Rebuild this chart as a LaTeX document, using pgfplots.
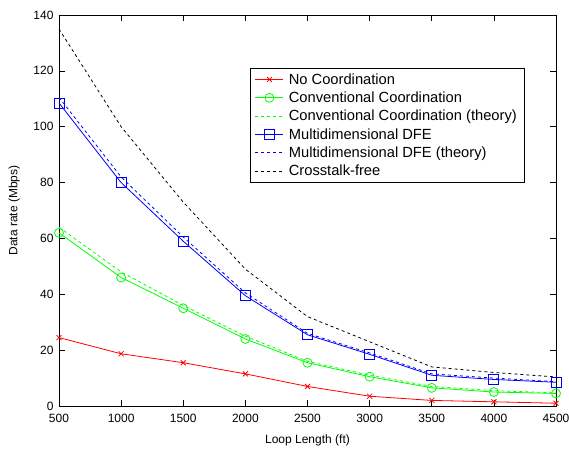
\documentclass[border=0pt]{standalone}
\usepackage{pgfplots}
\pgfplotsset{compat=1.18}
\usepackage{fontspec}
\setmainfont{Liberation Sans}
\begin{document}
\begin{tikzpicture}
  \begin{axis}[
      scale only axis,
      width=497pt, height=391pt,
      xmin=500, xmax=4500,
      ymin=0, ymax=140,
      xtick={500,1000,...,4500},
      ytick={0,20,...,140},
      tick align=inside,
      major tick length=6pt,
      xticklabel style={/pgf/number format/1000 sep={}, yshift=-5pt},
      yticklabel style={xshift=-2pt},
      /pgf/number format/assume math mode=true,
      tick label style={font=\fontsize{12}{14}\selectfont},
      xlabel={Loop Length (ft)},
      ylabel={Data rate (Mbps)},
      every axis x label/.style={at={(axis description cs:0.5,-0.087)}, anchor=center,
        font=\fontsize{12}{14}\selectfont},
      every axis y label/.style={at={(axis description cs:-0.09,0.5)}, rotate=90, anchor=center,
        font=\fontsize{12}{14}\selectfont},
      axis line style={black, line width=0.6pt},
      every tick/.style={black, line width=0.6pt},
      legend style={at={(rel axis cs:0.384,0.864)}, anchor=north west,
        font=\fontsize{14.7}{16}\selectfont,
        row sep=2.2pt, inner ysep=3pt, inner xsep=5pt,
        /tikz/every odd column/.append style={column sep=3pt}},
      legend image code/.code={\draw[mark repeat=2,mark phase=2,#1] plot coordinates {(0pt,0pt) (14pt,0pt) (28pt,0pt)};},
      legend cell align=left,
      every axis plot/.append style={line width=0.8pt},
    ]
    \addplot[color=red, draw=red, mark=x, mark size=3.5pt] coordinates {
        (500,24.5) (1000,18.7) (1500,15.5) (2000,11.5) (2500,7)
        (3000,3.5) (3500,2) (4000,1.5) (4500,1)
      };
    \addlegendentry{No Coordination}
    \addplot[color=green, draw=green, mark=o, mark size=4.5pt] coordinates {
        (500,62) (1000,46) (1500,35) (2000,24) (2500,15.5)
        (3000,10.5) (3500,6.5) (4000,5) (4500,4.5)
      };
    \addlegendentry{Conventional Coordination}
    \addplot[color=green, draw=green, dash pattern=on 3pt off 3pt] coordinates {
        (500,64) (1000,48) (1500,36) (2000,25) (2500,16)
        (3000,11) (3500,7) (4000,5.5) (4500,4.7)
      };
    \addlegendentry{Conventional Coordination (theory)\hspace{7pt}}
    \addplot[color=blue, draw=blue, mark=square, mark size=5pt] coordinates {
        (500,108.5) (1000,80) (1500,59) (2000,39.5) (2500,25.5)
        (3000,18.5) (3500,11) (4000,9.5) (4500,8.5)
      };
    \addlegendentry{Multidimensional DFE}
    \addplot[color=blue, draw=blue, dash pattern=on 3pt off 3pt] coordinates {
        (500,110.5) (1000,82) (1500,60.5) (2000,40.5) (2500,26)
        (3000,19) (3500,11.5) (4000,10) (4500,8.7)
      };
    \addlegendentry{Multidimensional DFE (theory)}
    \addplot[color=black, draw=black, dash pattern=on 3pt off 3pt] coordinates {
        (500,135) (1000,100) (1500,73) (2000,49) (2500,32)
        (3000,23) (3500,14) (4000,12) (4500,10.4)
      };
    \addlegendentry{Crosstalk-free}
  \end{axis}
  \pgfresetboundingbox
  \path[use as bounding box] (current axis.south west) ++(-59pt,-43pt) rectangle ++(569pt,449pt);
\end{tikzpicture}
\end{document}
